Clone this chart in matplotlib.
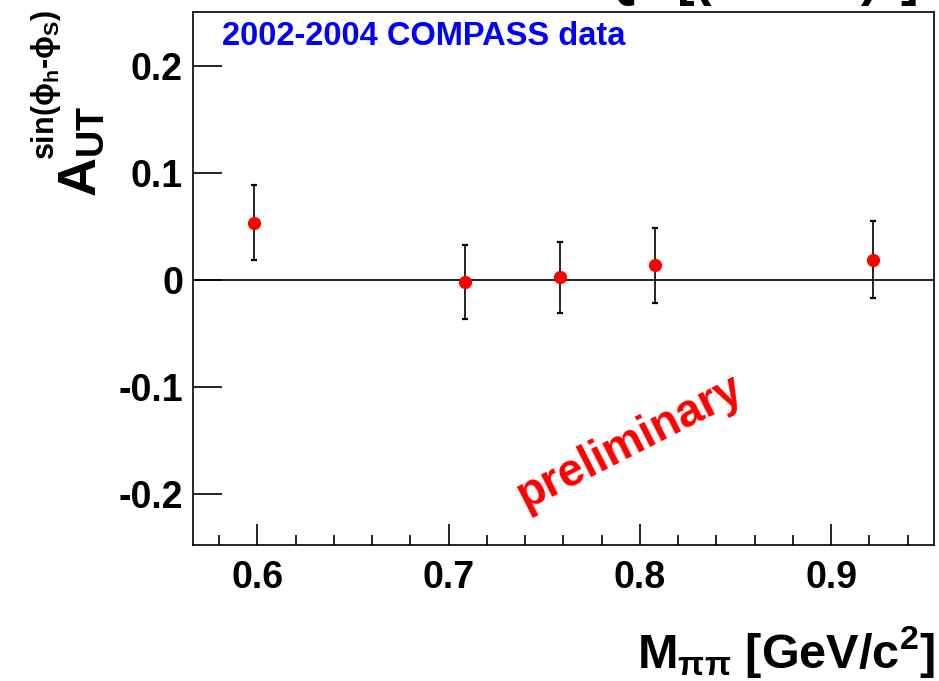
import matplotlib
matplotlib.use("Agg")
import matplotlib.pyplot as plt
from matplotlib.ticker import MultipleLocator, FormatStrFormatter, FuncFormatter

# ROOT-style bold Helvetica look
plt.rcParams['font.family'] = ['Liberation Sans', 'DejaVu Sans']
plt.rcParams['font.weight'] = 'bold'
plt.rcParams['mathtext.fontset'] = 'custom'
plt.rcParams['mathtext.rm'] = 'Liberation Sans:bold'
plt.rcParams['mathtext.it'] = 'Liberation Sans:bold'
plt.rcParams['mathtext.bf'] = 'Liberation Sans:bold'
plt.rcParams['mathtext.fallback'] = 'stixsans'
plt.rcParams['mathtext.default'] = 'rm'

# ---- data: A_UT^{sin(phi_h - phi_S)} vs M_pipi ----
m_pipi = [0.5984, 0.7084, 0.7584, 0.8078, 0.9218]
a_ut   = [0.0536, -0.0019, 0.0022, 0.0137, 0.0190]
a_err  = [0.0354, 0.0345, 0.0335, 0.0352, 0.0358]

xlim = (0.5662, 0.9538)
ylim = (-0.248, 0.2505)

fig = plt.figure(figsize=(9.39, 6.81), dpi=100)
ax = fig.add_axes([0.2052, 0.1997, 0.7895, 0.7827])

ax.axhline(0, color='black', lw=1.2, zorder=1)
ax.errorbar(m_pipi, a_ut, yerr=a_err, fmt='o', color='red', ms=8.5,
            ecolor='black', elinewidth=1.2, capsize=2.4, capthick=1.6, zorder=3)

ax.set_xlim(*xlim)
ax.set_ylim(*ylim)

ax.xaxis.set_major_locator(MultipleLocator(0.1))
ax.xaxis.set_minor_locator(MultipleLocator(0.02))
ax.yaxis.set_major_locator(MultipleLocator(0.1))
ax.xaxis.set_major_formatter(FormatStrFormatter('%g'))
ax.yaxis.set_major_formatter(FuncFormatter(
    lambda v, p: '0' if abs(v) < 1e-9 else f'{v:g}'))

ax.tick_params(axis='x', which='major', direction='in', length=15, width=1.2,
               labelsize=27, pad=11, top=False)
ax.tick_params(axis='x', which='minor', direction='in', length=7.5, width=1.2,
               top=False)
ax.tick_params(axis='y', which='major', direction='in', length=21, width=1.2,
               labelsize=27, pad=7, right=False)
for lbl in ax.get_xticklabels() + ax.get_yticklabels():
    lbl.set_fontweight('bold')
for s in ax.spines.values():
    s.set_linewidth(1.2)

fig.text(0.2364, 0.934, '2002-2004 COMPASS data', color='blue',
         fontsize=23.5, fontweight='bold', ha='left', va='baseline')

ax.text(0.590, 0.193, 'preliminary', color='red', fontsize=33,
        fontweight='bold', rotation=27, ha='center', va='center',
        transform=ax.transAxes)

# axis titles, placed at the axis ends
fig.text(0.996, 1 - 668 / 681, r'$M_{\pi\pi}$ [GeV/c$^{2}$]',
         fontsize=35, fontweight='bold', ha='right', va='baseline')
fig.text(107 / 939, 1 - 197 / 681, r'$A_{UT}$',
         fontsize=39, fontweight='bold', ha='right', va='bottom', rotation=90)
fig.text(63 / 939, 1 - 10 / 681, r'sin($\phi_{h}$-$\phi_{S}$)',
         fontsize=22, fontweight='bold', ha='right', va='top', rotation=90)

# upper title running off the top edge
fig.text(917 / 939, 1 + 4 / 681, r'Q$^{2}$ [(GeV/c)$^{2}$]',
         fontsize=38, fontweight='bold', ha='right', va='baseline')

fig.savefig('out.png', dpi=100, facecolor='white')
